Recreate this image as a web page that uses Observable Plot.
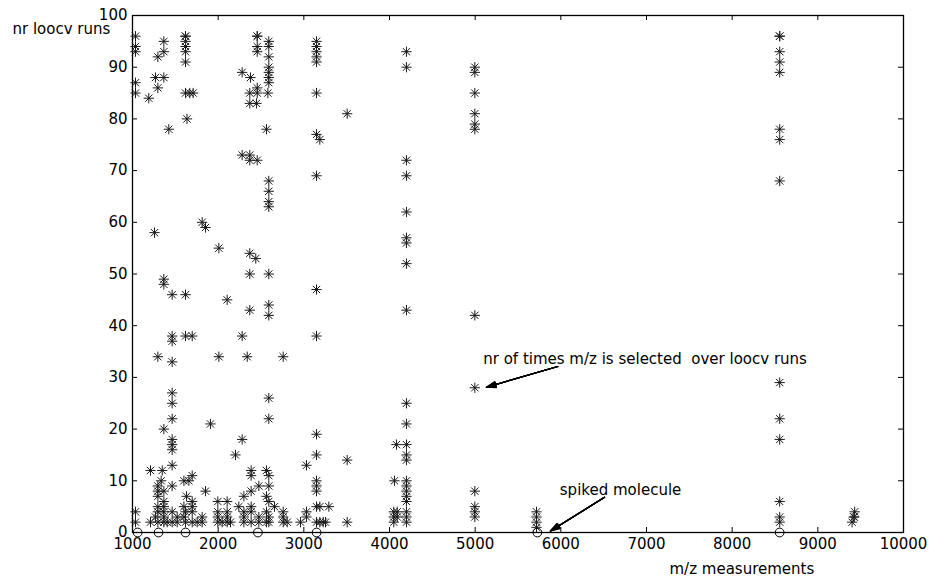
<!DOCTYPE html>
<html><head><meta charset="utf-8">
<script src="https://cdn.jsdelivr.net/npm/d3@7"></script>
<script src="https://cdn.jsdelivr.net/npm/@observablehq/plot@0.6"></script>
<style>html,body{margin:0;padding:0;background:#fff;}</style>
</head><body><div id="chart"></div>
<script>
// m/z position of each selected feature and the number of loocv runs it was selected in
const mz = [
  1035,1035,1035,1035,1035,1035,1035,
  1190,1210,1210,1257,1268,1268,
  1296,1296,1296,1296,1296,1296,1296,1296,1296,
  1335,1347,
  1366,1366,1366,1366,1366,1366,1366,1366,1366,1366,1366,1366,
  1405,1424,
  1463,1463,1463,1463,1463,1463,1463,1463,1463,1463,1463,1463,1463,1463,
  1522,1522,1600,1600,1600,
  1619,1619,1619,1619,1619,1619,1619,1619,1619,1619,1619,
  1636,1631,1658,1669,
  1697,1697,1697,1697,1697,1697,1708,1755,
  1813,1813,1813,1852,1852,1910,
  1996,1996,1996,1996,2008,2008,2047,
  2105,2105,2105,2105,2105,2144,2202,2241,
  2280,2280,2280,2280,2300,2300,2300,2300,2339,
  2369,2369,2369,2369,2369,2369,2369,2377,
  2385,2385,2385,2385,2385,2385,2439,2447,
  2456,2456,2456,2456,2456,2456,2456,
  2475,2475,2475,2564,2564,2564,2564,2564,2580,
  2591,2591,2591,2591,2591,2591,2591,2591,2591,2591,2591,2591,2591,2591,2591,2591,2591,2591,2591,2591,2591,
  2658,2759,2759,2759,2759,2806,2961,3031,3031,3031,
  3148,3148,3148,3148,3148,3148,3148,3148,3148,3148,3148,3148,3148,3148,3148,3148,3148,
  3187,3187,3187,3226,3253,3292,3506,3506,3506,
  4050,4050,4050,4058,4081,4090,4090,
  4198,4198,4198,4198,4198,4198,4198,4198,4198,4198,4198,4198,4198,4198,4198,4198,4198,4198,4198,4198,4198,4198,
  4996,4996,4996,4996,4996,4996,4996,4996,4996,4996,4996,4996,
  5716,5716,5716,5716,
  8555,8555,8555,8555,8555,8555,8555,8555,8555,8555,8555,8555,8555,8555,
  9400,9420,9430,9425
];
const runs = [
  96,94,93,87,85,4,2,
  84,12,2,58,88,3,
  92,86,34,9,8,7,5,4,2,
  10,12,
  95,93,88,49,48,20,8,6,5,4,3,2,
  2,78,
  46,38,37,33,27,25,22,18,17,16,13,9,4,2,
  3,2,10,5,3,
  96,96,95,94,93,91,85,46,38,4,2,
  80,7,10,85,
  38,11,6,5,4,2,85,2,
  60,3,2,59,8,21,
  6,4,3,2,55,34,2,
  45,6,4,3,2,2,15,5,
  89,73,38,18,7,4,3,2,34,
  85,83,73,72,54,50,43,88,
  12,11,8,5,4,2,53,83,
  96,96,94,93,86,85,72,
  9,3,2,78,12,7,4,2,85,
  95,94,92,90,89,88,87,68,66,64,63,50,44,42,26,22,11,9,6,3,2,
  5,34,4,3,2,2,2,13,4,3,
  95,94,93,92,91,85,77,69,47,38,19,15,10,9,8,5,2,
  76,5,2,2,2,5,81,14,2,
  4,3,2,10,17,4,3,
  93,90,72,69,62,57,56,52,43,25,21,17,15,14,10,9,8,7,6,4,3,2,
  90,89,85,81,79,78,42,28,8,5,4,3,
  4,3,2,1,
  96,96,93,91,89,78,76,68,29,22,18,6,3,2,
  2,3,4,3
];
// true m/z positions (open circles on the axis)
const trueMz = [1060, 1304, 1619, 2464, 3149, 5726, 8554];

const xTicks = [1000,2000,3000,4000,5000,6000,7000,8000,9000,10000];
const yTicks = [0,10,20,30,40,50,60,70,80,90,100];

const yLabel = "nr loocv runs";
const xLabel = "m/z measurements";
const note1 = {text: "nr of times m/z is selected  over loocv runs", x: 5094, y: 33.6, ax1: 5965, ay1: 32.1, ax2: 5132, ay2: 28.1};
const note2 = {text: "spiked molecule", x: 5988, y: 8.1, ax1: 6510, ay1: 6.8, ax2: 5879, ay2: 0.3};

const points = mz.map((m, i) => ({mz: m, runs: runs[i]}));

const W = 932, H = 585, ML = 132, MR = 29, MT = 15, MB = 53;
const FW = W - ML - MR, FH = H - MT - MB, TL = 5;
const notes = [note1, note2];

const arrowHeads = [36, 30, 24, 18, 12, 6, 1].map(a => Plot.arrow(notes, {
  x1: "ax1", y1: "ay1", x2: "ax2", y2: "ay2", bend: 0,
  headAngle: a, headLength: 12.5, stroke: "black", strokeWidth: 1.2
}));

const chart = Plot.plot({
  width: W, height: H,
  marginLeft: ML, marginRight: MR, marginTop: MT, marginBottom: MB,
  style: {fontFamily: "'DejaVu Sans', Verdana, sans-serif", fontSize: "15px", background: "white", color: "black", overflow: "visible"},
  x: {domain: [1000, 10000]},
  y: {domain: [0, 100]},
  marks: [
    Plot.axisX({ticks: xTicks, tickSize: 0, tickPadding: 6, tickFormat: d => String(d), label: null}),
    Plot.axisY({ticks: yTicks, tickSize: 0, tickPadding: 5, tickFormat: d => String(d), label: null}),
    Plot.tickX(xTicks, {x: d => d, insetTop: FH - TL, stroke: "black"}),
    Plot.tickX(xTicks, {x: d => d, insetBottom: FH - TL, stroke: "black"}),
    Plot.tickY(yTicks, {y: d => d, insetLeft: FW - TL, stroke: "black"}),
    Plot.tickY(yTicks, {y: d => d, insetRight: FW - TL, stroke: "black"}),
    Plot.frame({stroke: "black", strokeWidth: 1.3}),
    Plot.dot(points, {x: "mz", y: "runs", symbol: "plus", r: 3.4, stroke: "#1a1a1a", strokeWidth: 1}),
    Plot.dot(points, {x: "mz", y: "runs", symbol: "times", r: 3.4, stroke: "#1a1a1a", strokeWidth: 1}),
    Plot.dot(trueMz, {x: d => d, y: () => 0, r: 4.4, stroke: "black", fill: "none", strokeWidth: 1}),
    ...arrowHeads,
    Plot.text(notes, {x: "x", y: "y", text: "text", textAnchor: "start", fill: "black"}),
    Plot.text([yLabel], {frameAnchor: "top-left", dx: -120, dy: 8, textAnchor: "start", fill: "black"}),
    Plot.text([xLabel], {frameAnchor: "bottom-right", dx: -234, dy: 41, textAnchor: "start", fill: "black"})
  ]
});
document.getElementById("chart").appendChild(chart);
</script></body></html>
